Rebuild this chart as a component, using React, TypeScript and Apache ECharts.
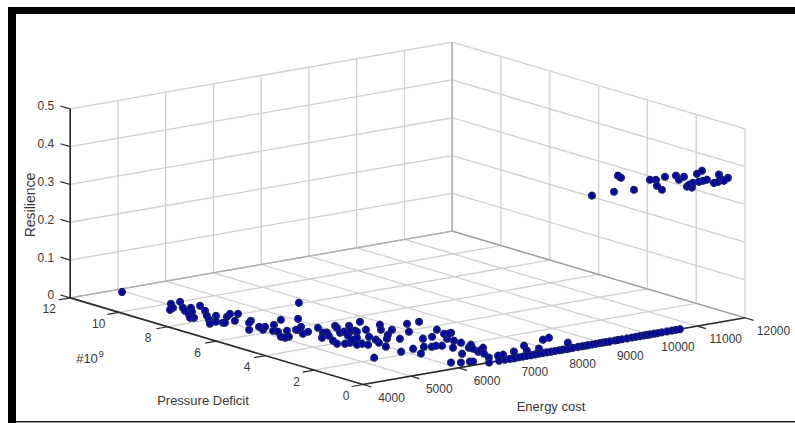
import React, { useEffect, useRef } from "react";
import * as echarts from "echarts";

const W = 795;
const H = 423;

const energyTicks = [4000, 5000, 6000, 7000, 8000, 9000, 10000, 11000, 12000];
const pressureTicks = [0, 2, 4, 6, 8, 10, 12];
const resilienceTicks = [0, 0.1, 0.2, 0.3, 0.4, 0.5];

// Points lying on the floor of the cube (resilience about 0)
const floorEnergy = [
  4948, 5061, 4911, 4782, 5269, 5042, 4936, 5148, 4983, 4810, 4743, 4691, 5354, 5199, 5003, 4853, 4689, 5122, 4856, 4904,
  4931, 5223, 5395, 5150, 5501, 5361, 5247, 4937, 5201, 5121, 5280, 5801, 5487, 5208, 5230, 5047, 5392, 5152, 5056, 6791,
  6069, 5754, 5556, 5582, 5470, 5625, 5933, 5778, 5543, 5831, 5724, 5555, 6246, 6184, 6002, 5475, 6099, 6431, 6235, 5580,
  5974, 5690, 6288, 6004, 5694, 6752, 6270, 5849, 5804, 6478, 6206, 5839, 6165, 6072, 6883, 6675, 6820, 6545, 6355, 5987,
  5342, 6526, 5963, 7283, 6955, 7530, 6255, 6138, 6829, 6487, 7036, 6593, 7413, 6689, 6768, 7327, 7145, 7464, 7393, 6825,
  7148, 7152, 6678, 7036, 7195, 7045, 6978, 6134, 6266, 6428, 6468, 7048, 7220, 6968, 6856, 6640, 7063, 7174, 6850, 7452,
  7150, 7848, 7667, 8365, 8533, 7914, 8561,
];
const floorPressure = [
  11.73, 9.95, 9.57, 9.44, 9.98, 9.42, 9.13, 9.3, 8.93, 8.72, 8.38, 8.44, 9.33, 8.82, 8.36, 7.98, 7.62, 8.22, 7.7, 7.51,
  7.48, 7.97, 8.18, 7.5, 8.06, 7.26, 7.11, 6.5, 6.61, 6.29, 6.52, 6.89, 6.56, 6.05, 5.89, 5.41, 5.84, 5.29, 5.26, 8.09,
  6.71, 5.97, 5.79, 5.76, 5.34, 5.43, 5.63, 5.12, 4.7, 5.06, 4.77, 4.27, 5.54, 5.34, 4.86, 3.95, 4.89, 5.33, 4.87, 3.83,
  4.48, 3.84, 4.81, 4.17, 3.56, 5.51, 4.69, 4.07, 3.57, 4.73, 4.07, 3.39, 3.71, 3.4, 4.95, 4.5, 4.33, 3.96, 3.63, 2.95,
  2.17, 3.43, 2.28, 4.62, 3.9, 4.61, 2.36, 1.81, 3.08, 2.37, 3.11, 2.25, 3.65, 2.27, 2.18, 3.19, 2.71, 3.17, 3.12, 1.84,
  2.43, 2.15, 1.18, 1.6, 1.83, 1.45, 1.11, 0.57, 0.42, 0.37, 0.32, 1.17, 1.38, 0.85, 0.43, 0, 0.46, 0.47, 0, 0.57,
  0, 0.93, 0.46, 1.17, 1.25, 0.45, 0.53,
];

// Points along the zero-pressure edge
const edgeEnergy = [
  6973, 7078, 7183, 7267, 7350, 7434, 7518, 7602, 7685, 7769, 7853, 7937, 8020, 8104, 8188, 8272, 8335, 8397, 8502, 8586,
  8649, 8712, 8795, 8879, 8963, 9026, 9088, 9172, 9277, 9340, 9423, 9528, 9633, 9717, 9800, 9884, 9947, 10010, 10094,
  10177, 10261, 10366, 10470, 10554, 10638,
];

// Raised cluster, at zero pressure
const raisedEnergy = [
  8795, 9256, 9675, 9340, 9403, 10010, 10135, 10156, 10261, 10324, 10554, 10617, 10722, 10785, 10889, 10826, 10910, 10994,
  11099, 11036, 11120, 11203, 11350, 11434, 11455, 11517, 11643, 11559,
];
const raisedResilience = [
  0.394, 0.394, 0.39, 0.435, 0.428, 0.409, 0.406, 0.39, 0.377, 0.41, 0.408, 0.396, 0.401, 0.374, 0.369, 0.378, 0.381, 0.403,
  0.409, 0.381, 0.382, 0.383, 0.371, 0.372, 0.391, 0.376, 0.378, 0.372,
];

// Oblique projection of the 3D box on the page
const ORIGIN = [363, 384.5];
const E_STEP = [47.75, -8.34];
const P_STEP = [-24.4, -7.22];
const R_STEP = -378;

function project(e: number, p: number, r: number): [number, number] {
  const k = (e - 4000) / 1000;
  return [ORIGIN[0] + k * E_STEP[0] + p * P_STEP[0], ORIGIN[1] + k * E_STEP[1] + p * P_STEP[1] + r * R_STEP];
}

const E0 = 4000;
const E1 = 12000;
const P0 = 0;
const P1 = 12;
const R1 = 0.5;

type Seg = { a: [number, number]; b: [number, number]; color: string; width: number };
const GRID = "#cfcfcf";
const AXIS = "#2b2b2b";

function buildSegments(): Seg[] {
  const s: Seg[] = [];
  const add = (a: [number, number], b: [number, number], color = GRID, width = 1.3) => s.push({ a, b, color, width });
  for (const e of energyTicks) {
    add(project(e, P0, 0), project(e, P1, 0));
    add(project(e, P1, 0), project(e, P1, R1));
  }
  for (const p of pressureTicks) {
    add(project(E0, p, 0), project(E1, p, 0));
    add(project(E1, p, 0), project(E1, p, R1));
  }
  for (const r of resilienceTicks) {
    add(project(E0, P1, r), project(E1, P1, r));
    add(project(E1, P1, r), project(E1, P0, r));
  }
  add(project(E1, P1, 0), project(E1, P1, R1), "#b4b4b4", 1.6);
  add(project(E0, P1, 0), project(E1, P1, 0), "#acacac", 1.2);
  add(project(E1, P1, 0), project(E1, P0, 0), "#999999", 1.2);
  add(project(E0, P1, 0), project(E0, P1, R1), AXIS, 1.6);
  add(project(E0, P1, 0), project(E0, P0, 0), AXIS, 1.6);
  add(project(E0, P0, 0), project(E1, P0, 0), AXIS, 1.6);
  for (const r of resilienceTicks) add(project(E0, P1, r), project(E0, P1 + 0.4, r), AXIS, 1.2);
  for (const p of pressureTicks) add(project(E0, p, 0), project(E0 - 240, p, 0), AXIS, 1.2);
  for (const e of energyTicks) add(project(e, P0, 0), project(e, P0 - 0.35, 0), AXIS, 1.2);
  return s;
}

type Lab = { at: [number, number]; text: string; size?: number; align?: string; rot?: number; rich?: boolean };

function buildLabels(): Lab[] {
  const l: Lab[] = [];
  for (const e of energyTicks) {
    const q = project(e, P0, 0);
    l.push({ at: [q[0] + 28.5, q[1] + 13], text: String(e) });
  }
  for (const p of pressureTicks) {
    const q = project(E0, p, 0);
    l.push({ at: [q[0] - 17 - p / 3, q[1] + 11.5], text: String(p) });
  }
  for (const r of resilienceTicks) {
    const q = project(E0, P1, r);
    l.push({ at: [q[0] - 16, q[1] - 2.5], text: String(r), align: "right" });
  }
  l.push({ at: [203, 400.5], text: "Pressure Deficit", size: 13 });
  l.push({ at: [551, 406.5], text: "Energy cost", size: 13 });
  l.push({ at: [30, 205], text: "Resilience", size: 14, rot: Math.PI / 2 });
  l.push({ at: [90, 358], text: "{a|#10}{b|9}", rich: true });
  return l;
}

const FONT = '"Liberation Sans", Arial, sans-serif';
const INK = "#383838";

export default function App() {
  const ref = useRef<HTMLDivElement>(null);
  useEffect(() => {
    const chart = echarts.init(ref.current!, null, { renderer: "svg" });
    const segments = buildSegments();
    const labels = buildLabels();
    const dots = [
      ...floorEnergy.map((e, i) => project(e, floorPressure[i], 0)),
      ...edgeEnergy.map((e) => project(e, 0, 0)),
      ...raisedEnergy.map((e, i) => project(e, 0, raisedResilience[i])),
    ];
    chart.setOption({
      animation: false,
      backgroundColor: "#ffffff",
      grid: { left: 0, right: 0, top: 0, bottom: 0 },
      xAxis: { type: "value", min: 0, max: W, show: false },
      yAxis: { type: "value", min: 0, max: H, inverse: true, show: false },
      series: [
        {
          type: "custom",
          silent: true,
          z: 1,
          clip: false,
          encode: { x: [0, 2], y: [1, 3] },
          data: segments.map((s) => [s.a[0], s.a[1], s.b[0], s.b[1]]),
          renderItem: (params: any, api: any) => {
            const s = segments[params.dataIndex];
            const a = api.coord([api.value(0), api.value(1)]);
            const b = api.coord([api.value(2), api.value(3)]);
            return {
              type: "line",
              shape: { x1: a[0], y1: a[1], x2: b[0], y2: b[1] },
              style: { stroke: s.color, lineWidth: s.width, fill: "none" },
            };
          },
        },
        {
          type: "custom",
          silent: true,
          z: 2,
          clip: false,
          encode: { x: 0, y: 1 },
          data: labels.map((l) => l.at),
          renderItem: (params: any, api: any) => {
            const l = labels[params.dataIndex];
            const a = api.coord([api.value(0), api.value(1)]);
            const style: any = {
              text: l.text,
              fontFamily: FONT,
              fontSize: l.size ?? 12,
              fill: INK,
              align: l.align ?? "center",
              verticalAlign: "middle",
            };
            if (l.rich) {
              style.rich = {
                a: { fontFamily: FONT, fontSize: 13, fill: INK, color: INK },
                b: { fontFamily: FONT, fontSize: 9, fill: INK, color: INK, verticalAlign: "top", padding: [0, 0, 8, 1] },
              };
            }
            return { type: "text", x: a[0], y: a[1], rotation: l.rot ?? 0, style };
          },
        },
        {
          type: "scatter",
          z: 3,
          symbol: "circle",
          symbolSize: 6.5,
          clip: false,
          silent: true,
          itemStyle: { color: "#0000b0", borderColor: "#14206e", borderWidth: 1.6, opacity: 1 },
          data: dots,
        },
      ],
      graphic: [
        { type: "rect", silent: true, shape: { x: 8, y: 7, width: 787, height: 7 }, style: { fill: "#000000" } },
        { type: "rect", silent: true, shape: { x: 8, y: 7, width: 8, height: 416 }, style: { fill: "#000000" } },
        { type: "rect", silent: true, shape: { x: 16, y: 421, width: 779, height: 1.5 }, style: { fill: "#222222" } },
      ],
    });
    return () => chart.dispose();
  }, []);
  return <div ref={ref} style={{ position: "absolute", left: 0, top: 0, width: W, height: H }} />;
}
